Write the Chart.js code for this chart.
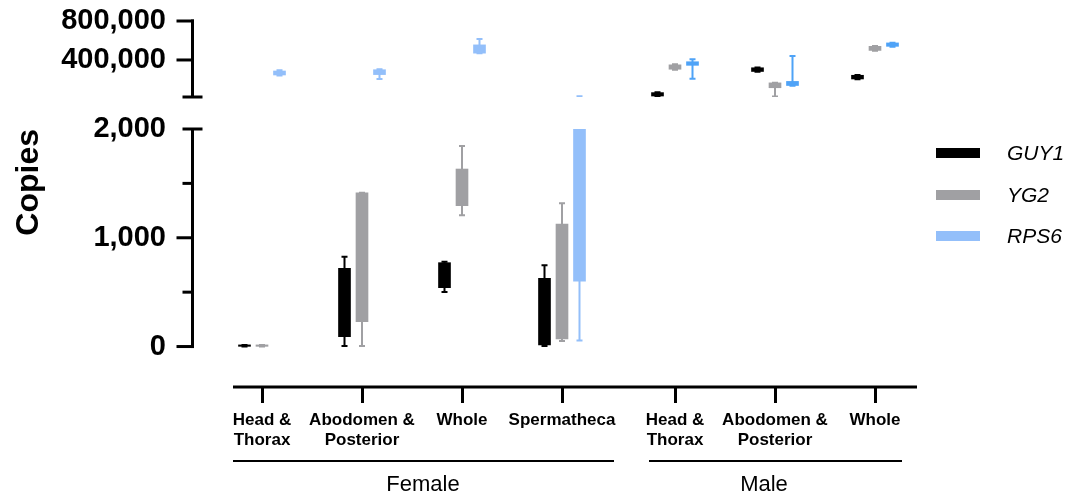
<!DOCTYPE html>
<html lang="en">
<head>
    <meta charset="UTF-8">
    <title>Copies by tissue</title>
    <script src="https://cdn.jsdelivr.net/npm/chart.js@4.4.0/dist/chart.umd.min.js"></script>
    <style>
        body { margin: 0; background: #fff; font-family: 'Liberation Sans', Arial, sans-serif; }
        #wrap { position: relative; width: 1081px; height: 498px; overflow: hidden; }
        #topChart { position: absolute; left: 0; top: 0; }
        #bottomChart { position: absolute; left: 0; top: 110px; }
        .legend-row { position: absolute; left: 936px; width: 145px; height: 24px; }
        .swatch { position: absolute; left: 0; top: 7px; width: 44px; height: 10px; }
        .legend-row span { position: absolute; left: 71px; top: 0; font-style: italic; font-size: 21px; line-height: 24px; color: #000; }
    </style>
</head>
<body>
<div id="wrap">
    <canvas id="topChart" width="1081" height="115"></canvas>
    <canvas id="bottomChart" width="1081" height="388"></canvas>

    <!-- legend -->
    <div class="legend-row" style="top:141px"><div class="swatch" style="background:#000000"></div><span>GUY1</span></div>
    <div class="legend-row" style="top:183px"><div class="swatch" style="background:#a0a0a3"></div><span>YG2</span></div>
    <div class="legend-row" style="top:224px"><div class="swatch" style="background:#93bffa"></div><span>RPS6</span></div>
</div>

<script>
    // Categories
    const tissueLabels = [
        ['Head &', 'Thorax'], ['Abodomen &', 'Posterior'], ['Whole'], ['Spermatheca'],
        ['Head &', 'Thorax'], ['Abodomen &', 'Posterior'], ['Whole']
    ];
    const sexGroups = ['Female', 'Male'];
    const seriesNames = ['GUY1', 'YG2', 'RPS6'];

    // GUY1 box values (min, q1, q3, max)
    const guy1Min = [0, 5, 501, 5, 25000, 280000, 203000];
    const guy1Q1  = [2, 90, 541, 14, 30000, 282000, 205000];
    const guy1Q3  = [15, 719, 771, 627, 65000, 320000, 243000];
    const guy1Max = [15, 826, 780, 747, 70000, 322000, 245000];

    // YG2
    const yg2Min = [0, 5, 1206, 51, 300000, 25000, 495000];
    const yg2Q1  = [2, 228, 1295, 69, 305000, 115000, 498000];
    const yg2Q3  = [15, 1414, 1632, 1126, 350000, 165000, 540000];
    const yg2Max = [15, 1414, 1844, 1317, 355000, 165000, 543000];

    // RPS6
    const rps6Min = [240000, 205000, 468000, 55, 208000, 135000, 536000];
    const rps6Q1  = [246000, 250000, 470000, 600, 345000, 138000, 540000];
    const rps6Q3  = [287000, 300000, 555000, 6000, 382000, 180000, 575000];
    const rps6Max = [295000, 305000, 615000, 28000, 407000, 441000, 577000];

    // Axis ticks
    const topTicks = [400000, 800000];
    const lowTicks = [0, 1000, 2000];
    const lowMinorTicks = [500, 1500];

    // Colours
    const black = '#000000';
    const gray = '#a0a0a3';
    const lightBlue = '#93bffa';
    const brightBlue = '#4fa3f7';

    // Layout of the x axis (in category units)
    const xMin = -0.69, xMax = 6.55, xAxisStart = -0.29;
    const groupGap = 0.13;
    const groupSpans = [[-0.29, 3.52], [3.87, 6.40]];
    const groupLabelPos = [1.61, 5.02];
    const seriesOffset = [-0.175, 0, 0.175];

    Chart.defaults.font.family = "'Liberation Sans', Arial, sans-serif";
    Chart.defaults.color = '#000';

    function tissuePos(i) {
        return i + (i >= 4 ? groupGap : 0);
    }

    function boxDataset(label, q1, q3, mins, maxs, colors, s) {
        return {
            label: label,
            data: q1.map((v, i) => ({ x: tissuePos(i) + seriesOffset[s], y: [v, q3[i]] })),
            backgroundColor: colors,
            whiskerMin: mins,
            whiskerMax: maxs,
            barThickness: 12,
            maxBarThickness: 12,
            grouped: false,
            borderWidth: 0,
            clip: 0
        };
    }

    function makeDatasets() {
        const rpsColors = tissueLabels.map((_, i) => i < 4 ? lightBlue : brightBlue);
        return [
            boxDataset(seriesNames[0], guy1Q1, guy1Q3, guy1Min, guy1Max, black, 0),
            boxDataset(seriesNames[1], yg2Q1, yg2Q3, yg2Min, yg2Max, gray, 1),
            boxDataset(seriesNames[2], rps6Q1, rps6Q3, rps6Min, rps6Max, rpsColors, 2)
        ];
    }

    // whiskers + caps, drawn under the boxes
    const whiskerPlugin = {
        id: 'whiskers',
        beforeDatasetsDraw(chart) {
            const { ctx, chartArea: a, scales: { y } } = chart;
            ctx.save();
            ctx.beginPath();
            ctx.rect(a.left, a.top, a.width, a.height);
            ctx.clip();
            chart.data.datasets.forEach((ds, di) => {
                chart.getDatasetMeta(di).data.forEach((bar, i) => {
                    const color = Array.isArray(ds.backgroundColor) ? ds.backgroundColor[i] : ds.backgroundColor;
                    const lo = y.getPixelForValue(ds.whiskerMin[i]);
                    const hi = y.getPixelForValue(ds.whiskerMax[i]);
                    ctx.strokeStyle = color;
                    ctx.lineWidth = 2;
                    ctx.beginPath();
                    ctx.moveTo(bar.x, lo); ctx.lineTo(bar.x, hi);
                    ctx.moveTo(bar.x - 3, lo); ctx.lineTo(bar.x + 3, lo);
                    ctx.moveTo(bar.x - 3, hi); ctx.lineTo(bar.x + 3, hi);
                    ctx.stroke();
                });
            });
            ctx.restore();
        }
    };

    function line(ctx, x1, y1, x2, y2) {
        ctx.beginPath();
        ctx.moveTo(x1, y1);
        ctx.lineTo(x2, y2);
        ctx.stroke();
    }

    // y axis of the upper segment, with the break cap at the bottom
    const topAxisPlugin = {
        id: 'topAxis',
        afterDraw(chart) {
            const { ctx, chartArea: a, scales: { y } } = chart;
            const ax = a.left - 0.5;
            ctx.save();
            ctx.strokeStyle = '#000';
            ctx.lineWidth = 3;
            line(ctx, ax, a.top - 1.5, ax, a.bottom);
            topTicks.forEach(v => {
                const py = y.getPixelForValue(v);
                line(ctx, ax - 16, py, ax + 1.5, py);
            });
            line(ctx, ax - 10, a.bottom, ax + 10, a.bottom);
            ctx.restore();
        }
    };

    // y axis of the lower segment, x axis line and the Female / Male brackets
    const bottomAxisPlugin = {
        id: 'bottomAxis',
        afterDraw(chart) {
            const { ctx, chartArea: a, scales: { x, y, x2 } } = chart;
            const ax = a.left - 0.5;
            const top = y.getPixelForValue(2000);
            const zero = y.getPixelForValue(0);
            ctx.save();
            ctx.strokeStyle = '#000';
            ctx.lineWidth = 3;
            line(ctx, ax, top, ax, zero + 1.5);
            lowTicks.forEach(v => {
                const py = y.getPixelForValue(v);
                if (v === 2000) line(ctx, ax - 10, py, ax + 10, py);
                else line(ctx, ax - 16, py, ax + 1.5, py);
            });
            lowMinorTicks.forEach(v => {
                const py = y.getPixelForValue(v);
                line(ctx, ax - 10, py, ax + 1.5, py);
            });
            line(ctx, x.getPixelForValue(xAxisStart), a.bottom, a.right, a.bottom);
            ctx.lineWidth = 2;
            groupSpans.forEach(([s, e]) => {
                line(ctx, x.getPixelForValue(s), x2.top, x.getPixelForValue(e), x2.top);
            });
            ctx.restore();
        }
    };

    const numberLabel = v => Number(v).toLocaleString('en-US');
    const yTickFont = { size: 29, weight: 'bold' };
    // invisible tick marks only push the labels left (tick padding would also pad vertically)
    const yGrid = { display: true, drawOnChartArea: false, drawTicks: true, tickLength: 27, tickColor: 'rgba(0,0,0,0)' };

    // upper segment
    new Chart(document.getElementById('topChart'), {
        type: 'bar',
        data: { datasets: makeDatasets() },
        options: {
            responsive: false,
            animation: false,
            layout: { padding: { top: 21, bottom: 18, left: 0, right: 164 } },
            plugins: { legend: { display: false }, tooltip: { enabled: false } },
            scales: {
                x: { type: 'linear', min: xMin, max: xMax, offset: false, display: false, grid: { offset: false } },
                y: {
                    min: 20000, max: 800000,
                    grid: yGrid,
                    border: { display: false },
                    afterBuildTicks: s => { s.ticks = topTicks.map(v => ({ value: v })); },
                    afterFit: s => { s.width = 193; },
                    ticks: { padding: 0, color: '#000', font: yTickFont, callback: numberLabel }
                }
            }
        },
        plugins: [whiskerPlugin, topAxisPlugin]
    });

    // lower segment with the x axis
    new Chart(document.getElementById('bottomChart'), {
        type: 'bar',
        data: { datasets: makeDatasets() },
        options: {
            responsive: false,
            animation: false,
            layout: { padding: { top: 19, bottom: 0, left: 0, right: 164 } },
            plugins: { legend: { display: false }, tooltip: { enabled: false } },
            scales: {
                x: {
                    type: 'linear', min: xMin, max: xMax, offset: false, weight: 0,
                    border: { display: false },
                    grid: { offset: false, drawOnChartArea: false, drawTicks: true, tickLength: 16, tickWidth: 3, tickColor: '#000' },
                    afterBuildTicks: s => { s.ticks = tissueLabels.map((_, i) => ({ value: tissuePos(i) })); },
                    afterFit: s => { s.height = 74; },
                    ticks: {
                        autoSkip: false, maxRotation: 0, padding: 7, color: '#000',
                        font: { size: 17, weight: 'bold', lineHeight: 1.2 },
                        callback: (v, i) => tissueLabels[i]
                    }
                },
                x2: {
                    type: 'linear', position: 'bottom', min: xMin, max: xMax, offset: false, weight: 1,
                    border: { display: false },
                    grid: { display: false, drawTicks: false },
                    afterBuildTicks: s => { s.ticks = groupLabelPos.map(v => ({ value: v })); },
                    afterFit: s => { s.height = 37; },
                    ticks: {
                        autoSkip: false, maxRotation: 0, padding: 11, color: '#000',
                        font: { size: 22 },
                        callback: (v, i) => sexGroups[i]
                    }
                },
                y: {
                    min: -372, max: 2000,
                    grid: yGrid,
                    border: { display: false },
                    afterBuildTicks: s => { s.ticks = lowTicks.map(v => ({ value: v })); },
                    afterFit: s => { s.width = 193; },
                    ticks: { padding: 0, color: '#000', font: yTickFont, callback: numberLabel },
                    title: {
                        display: true, text: 'Copies', align: 'end', color: '#000',
                        padding: { top: 10, bottom: 0 },
                        font: { size: 32, weight: 'bold' }
                    }
                }
            }
        },
        plugins: [whiskerPlugin, bottomAxisPlugin]
    });
</script>
</body>
</html>
